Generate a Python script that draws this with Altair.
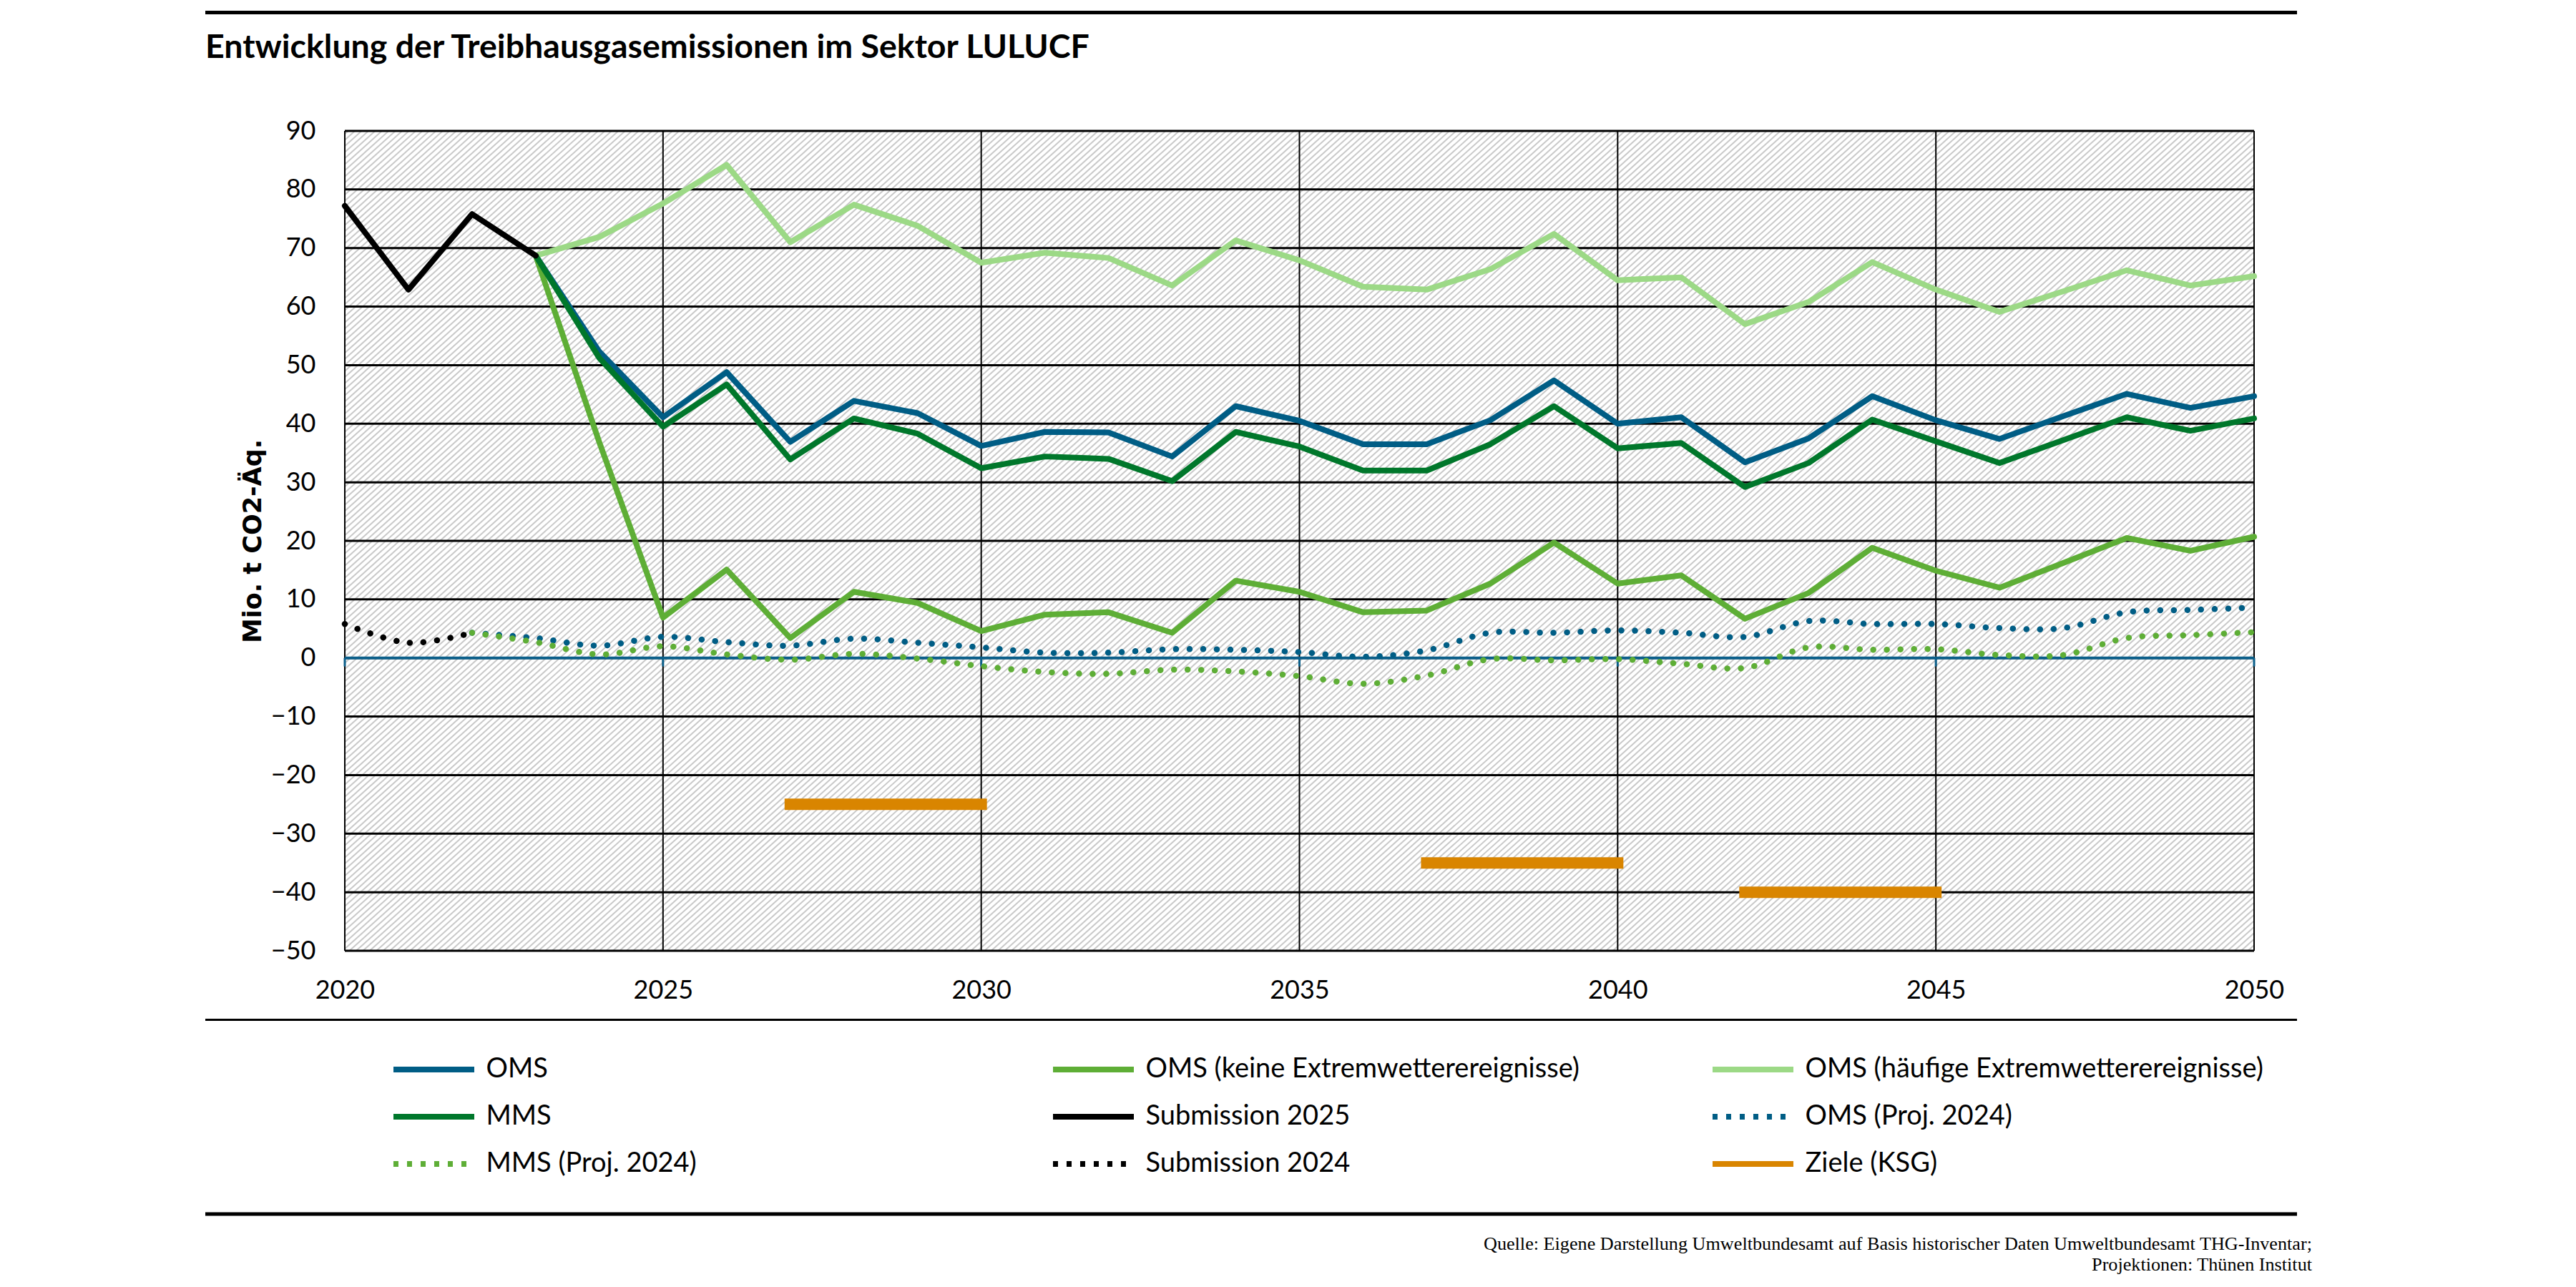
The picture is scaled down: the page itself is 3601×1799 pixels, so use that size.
import altair as alt
import numpy as np
import pandas as pd

# ---------------- texts ----------------
TITLE = ["Entwicklung der Treibhausgasemissionen im Sektor LULUCF"]
Y_TITLE = "Mio. t CO2-Äq."
SOURCE = [
    "Quelle: Eigene Darstellung Umweltbundesamt auf Basis historischer Daten Umweltbundesamt THG-Inventar;",
    "Projektionen: Thünen Institut",
]

# ---------------- series (legend order: filled column by column) ----------------
LEGEND_ORDER = [
    "OMS",
    "MMS",
    "MMS (Proj. 2024)",
    "OMS (keine Extremwetterereignisse)",
    "Submission 2025",
    "Submission 2024",
    "OMS (häufige Extremwetterereignisse)",
    "OMS  (Proj. 2024)",
    "Ziele (KSG)",
]
LEGEND_COLORS = ["#005D85", "#00772B", "#5EAE36", "#5EAE36", "#000000",
                 "#000000", "#9CD986", "#005D85", "#D98500"]
LEGEND_DASHES = [[1, 0], [1, 0], [7, 12], [1, 0], [1, 0],
                 [7, 12], [1, 0], [7, 12], [1, 0]]
LEGEND_WIDTHS = [8, 8, 8, 8, 8, 8, 8, 8, 18]

# ---------------- values ----------------
YEARS_SUB25 = [2020, 2021, 2022, 2023]
SUBMISSION_2025 = [77.2, 62.9, 75.8, 68.7]
YEARS_SUB24 = [2020, 2021, 2022]
SUBMISSION_2024 = [5.8, 2.6, 4.3]

YEARS_PROJ = list(range(2023, 2051))
OMS = [68.7, 52.3, 41.1, 48.8, 36.9, 43.9, 41.8, 36.2, 38.6, 38.5, 34.4, 43.0, 40.5, 36.5,
       36.5, 40.6, 47.4, 40.0, 41.1, 33.4, 37.5, 44.7, 40.6, 37.4, 41.3, 45.1, 42.7, 44.7]
MMS = [68.7, 51.2, 39.5, 46.7, 33.9, 40.9, 38.3, 32.4, 34.4, 34.0, 30.2, 38.6, 36.1, 32.0,
       32.0, 36.5, 43.0, 35.8, 36.7, 29.2, 33.3, 40.7, 37.0, 33.3, 37.2, 41.1, 38.8, 40.9]
OMS_KEINE = [68.7, 36.8, 6.9, 15.1, 3.4, 11.3, 9.4, 4.6, 7.4, 7.8, 4.3, 13.2, 11.3, 7.8,
             8.1, 12.7, 19.7, 12.7, 14.1, 6.7, 11.1, 18.8, 14.9, 12.0, 16.2, 20.5, 18.3, 20.7]
OMS_HAEUFIG = [68.7, 71.9, 77.6, 84.2, 71.0, 77.4, 73.8, 67.5, 69.2, 68.3, 63.6, 71.3, 67.9, 63.4,
               62.9, 66.4, 72.4, 64.5, 65.0, 57.0, 60.8, 67.6, 62.9, 59.1, 62.6, 66.2, 63.6, 65.2]

YEARS_P24 = list(range(2022, 2051))
OMS_P24 = [4.3, 3.4, 2.1, 3.6, 2.7, 2.1, 3.3, 2.6, 1.8, 0.9, 0.9, 1.5, 1.4, 1.0, 0.2,
           1.3, 4.3, 4.3, 4.7, 4.3, 3.6, 6.3, 5.8, 5.8, 5.1, 5.1, 7.8, 8.2, 8.6]
MMS_P24 = [4.3, 2.7, 0.6, 2.0, 0.6, -0.3, 0.7, -0.1, -1.4, -2.4, -2.7, -2.0, -2.3, -3.1, -4.4,
           -3.0, -0.2, -0.4, -0.2, -1.0, -1.7, 1.8, 1.4, 1.5, 0.5, 0.5, 3.4, 3.9, 4.4]

TARGET_START = [2027, 2037, 2042]
TARGET_END = [2030, 2040, 2045]
TARGET_VALUE = [-25, -35, -40]

Y_TICKS = list(range(-50, 91, 10))
X_TICKS = list(range(2020, 2051, 5))

# ---------------- geometry / styles ----------------
W, H = 2669, 1146
BLUE_AXIS = "#0B5F8A"
PLOT_DOT = [0.1, 18.9]

x_scale = alt.Scale(domain=[2020, 2050], nice=False, zero=False)
y_scale = alt.Scale(domain=[-50, 90], nice=False, zero=False)
color_scale = alt.Scale(domain=LEGEND_ORDER, range=LEGEND_COLORS)
dash_scale = alt.Scale(domain=LEGEND_ORDER, range=LEGEND_DASHES)
width_scale = alt.Scale(domain=LEGEND_ORDER, range=LEGEND_WIDTHS)

legend = alt.Legend(
    title=None, orient="none", legendX=68, legendY=1290, columns=3, gridAlign="all",
    columnPadding=135, rowPadding=25, padding=0,
    symbolType="M-3.14,0H3.14", symbolSize=1296, symbolOffset=34.5,
    symbolOpacity=1,
    labelOffset=51, labelFont="Lato", labelFontSize=38, labelColor="black", labelLimit=3000,
)

y_axis = alt.Axis(
    values=Y_TICKS, title=Y_TITLE, grid=False, domain=False, ticks=False, tickSize=0,
    labelFont="Lato", labelFontSize=36, labelColor="black", labelPadding=41, labelFlush=False,
    titleFont="DejaVu Sans", titleFontSize=35, titleFontWeight="bold", titleColor="black",
    titleX=-129, titleY=573, titleAngle=270, titleAlign="center", titleBaseline="middle",
)
x_axis = alt.Axis(
    values=X_TICKS, format="d", title=None, grid=False, domain=False, ticks=False, tickSize=0,
    labelFont="Lato", labelFontSize=36, labelColor="black", labelPadding=38, labelFlush=False,
    labelOverlap=False,
)


def X(field):
    return alt.X(field, scale=x_scale, axis=x_axis)


def Y(field):
    return alt.Y(field, scale=y_scale, axis=y_axis)


def C():
    return alt.Color("Reihe:N", scale=color_scale, legend=legend)


# ---------------- background hatch (decoration) ----------------
SLOPE, GAP = 0.9, 8.5
hx1, hy1, hx2, hy2 = [], [], [], []
for c in np.arange(GAP / 2, H + SLOPE * W, GAP):
    if c <= H:
        xa, ya = 0.0, c
    else:
        xa, ya = (c - H) / SLOPE, H
    if c / SLOPE <= W:
        xb, yb = c / SLOPE, 0.0
    else:
        xb, yb = W, c - SLOPE * W
    hx1.append(2020 + 30 * xa / W)
    hy1.append(90 - 140 * ya / H)
    hx2.append(2020 + 30 * xb / W)
    hy2.append(90 - 140 * yb / H)
hatch_df = pd.DataFrame({"hx1": hx1, "hy1": hy1, "hx2": hx2, "hy2": hy2})

hatch = alt.Chart(hatch_df).mark_rule(color="#c9c9c9", strokeWidth=2.0).encode(
    x=X("hx1:Q"), y=Y("hy1:Q"), x2="hx2:Q", y2="hy2:Q",
)

hgrid = alt.Chart(pd.DataFrame({"Wert": Y_TICKS})).mark_rule(color="black", strokeWidth=3).encode(
    y=Y("Wert:Q")
)
vgrid = alt.Chart(pd.DataFrame({"Jahr": X_TICKS})).mark_rule(color="black", strokeWidth=2).encode(
    x=X("Jahr:Q")
)
zero_line = alt.Chart(pd.DataFrame({"Wert": [0]})).mark_rule(color=BLUE_AXIS, strokeWidth=4).encode(
    y=Y("Wert:Q")
)
zero_ticks = alt.Chart(pd.DataFrame({"Jahr": X_TICKS, "von": 0.0, "bis": -1.45})).mark_rule(
    color=BLUE_AXIS, strokeWidth=3
).encode(x=X("Jahr:Q"), y=Y("von:Q"), y2="bis:Q")

# invisible layer that only carries the legend's dash / width styling
legend_key = alt.Chart(pd.DataFrame({"Reihe": LEGEND_ORDER, "Jahr": 2020, "Wert": 0})).mark_line(
    opacity=0
).encode(
    x=X("Jahr:Q"), y=Y("Wert:Q"), color=C(),
    strokeDash=alt.StrokeDash("Reihe:N", scale=dash_scale, legend=legend),
    strokeWidth=alt.StrokeWidth("Reihe:N", scale=width_scale, legend=legend),
)


def series_layer(name, years, values, dotted=False):
    df = pd.DataFrame({"Jahr": years, "Wert": values, "Reihe": name})
    if dotted:
        m = alt.Chart(df).mark_line(strokeWidth=8.5, strokeCap="round", strokeJoin="round",
                                    interpolate="catmull-rom", strokeDash=PLOT_DOT)
    else:
        m = alt.Chart(df).mark_line(strokeWidth=8, strokeCap="round", strokeJoin="round")
    return m.encode(x=X("Jahr:Q"), y=Y("Wert:Q"), color=C())


lines = [
    series_layer("OMS", YEARS_PROJ, OMS),
    series_layer("OMS (keine Extremwetterereignisse)", YEARS_PROJ, OMS_KEINE),
    series_layer("OMS (häufige Extremwetterereignisse)", YEARS_PROJ, OMS_HAEUFIG),
    series_layer("MMS", YEARS_PROJ, MMS),
    series_layer("Submission 2025", YEARS_SUB25, SUBMISSION_2025),
    series_layer("OMS  (Proj. 2024)", YEARS_P24, OMS_P24, dotted=True),
    series_layer("MMS (Proj. 2024)", YEARS_P24, MMS_P24, dotted=True),
    series_layer("Submission 2024", YEARS_SUB24, SUBMISSION_2024, dotted=True),
]

targets_df = pd.DataFrame({"von": TARGET_START, "bis": TARGET_END, "Wert": TARGET_VALUE,
                           "Reihe": "Ziele (KSG)"})
targets = alt.Chart(targets_df).mark_rule(strokeWidth=16, strokeCap="square").encode(
    x=X("von:Q"), x2="bis:Q", y=Y("Wert:Q"), color=C(),
)

title_text = alt.Chart(pd.DataFrame({"t": TITLE})).mark_text(
    align="left", baseline="alphabetic", font="Lato", fontSize=46.5, fontWeight="bold", color="black"
).encode(text="t:N", x=alt.value(-195), y=alt.value(-102))

source_text = alt.Chart(pd.DataFrame({"t": ["\n".join(SOURCE)]})).mark_text(
    align="right", baseline="alphabetic", font="Liberation Serif", fontSize=26.2,
    lineBreak="\n", lineHeight=29, color="black"
).encode(text="t:N", x=alt.value(2750), y=alt.value(1564))


def hrule(y, w):
    return alt.Chart(pd.DataFrame({"k": [0]})).mark_rule(color="black", strokeWidth=w).encode(
        x=alt.value(-195), x2=alt.value(2729), y=alt.value(y)
    )


chart = alt.layer(
    legend_key, hatch, hgrid, vgrid, zero_line, zero_ticks, *lines, targets,
    title_text, source_text, hrule(-165.5, 5), hrule(1242.5, 3), hrule(1514, 5),
).properties(
    width=W, height=H,
    autosize=alt.AutoSizeParams(type="none"),
    padding={"left": 474, "top": 175, "right": 442, "bottom": 455},
).configure_view(stroke=None)

chart.save("out.html", embed_options={"renderer": "svg", "actions": False})
